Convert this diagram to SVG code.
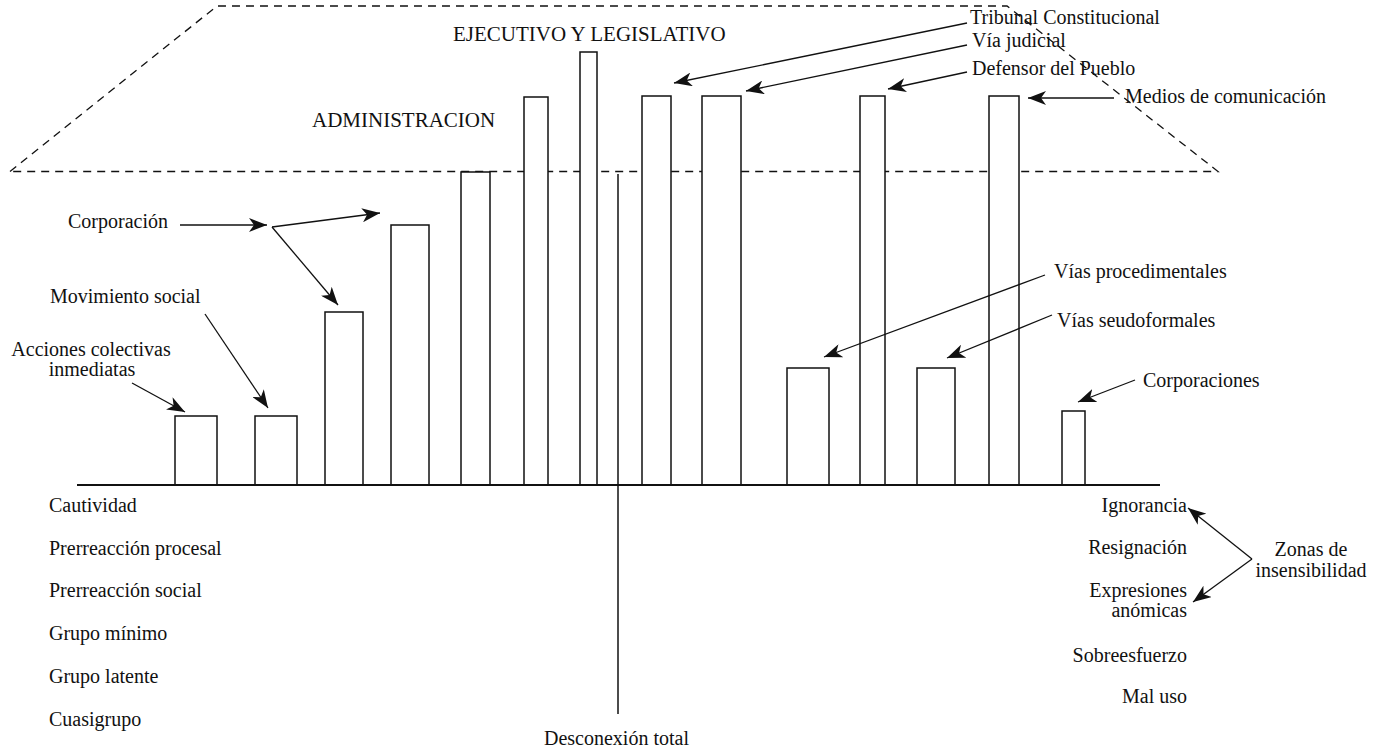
<svg xmlns="http://www.w3.org/2000/svg" width="1381" height="751" viewBox="0 0 1381 751">
<defs>
<style>
.t{font-family:"Liberation Serif","Times New Roman",serif;font-size:20px;fill:#111}
.c{font-size:21px}
.bar{fill:#fff;stroke:#111;stroke-width:1.5}
.arr{fill:none;stroke:#111;stroke-width:1.3;marker-end:url(#ah)}
.dash{fill:none;stroke:#111;stroke-width:1.3;stroke-dasharray:8 6}
</style>
<marker id="ah" viewBox="0 0 18 14" refX="18" refY="7" markerWidth="18" markerHeight="14" markerUnits="userSpaceOnUse" orient="auto">
<path d="M0,0 L18,7 L0,14 L5,7 Z" fill="#111"/>
</marker>
</defs>
<rect width="1381" height="751" fill="#fff"/>
<g id="zone">
<polygon class="dash" points="10,171.5 217,6 1007,6 1218,171.5"/>
</g>
<g id="bars">
<rect class="bar" x="175" y="416" width="42" height="69"/>
<rect class="bar" x="255" y="416" width="42" height="69"/>
<rect class="bar" x="325" y="312" width="38" height="173"/>
<rect class="bar" x="391" y="225" width="38" height="260"/>
<rect class="bar" x="461" y="172" width="29" height="313"/>
<rect class="bar" x="524" y="97" width="24" height="388"/>
<rect class="bar" x="580" y="52" width="17" height="433"/>
<rect class="bar" x="642" y="96" width="29" height="389"/>
<rect class="bar" x="702" y="96" width="39" height="389"/>
<rect class="bar" x="787" y="368" width="42" height="117"/>
<rect class="bar" x="860" y="96" width="25" height="389"/>
<rect class="bar" x="917" y="368" width="38" height="117"/>
<rect class="bar" x="989" y="96" width="30" height="389"/>
<rect class="bar" x="1062" y="411" width="23" height="74"/>
</g>
<g id="axes">
<line x1="77" y1="485" x2="1160" y2="485" stroke="#111" stroke-width="2"/>
<line x1="618" y1="174" x2="618" y2="714" stroke="#111" stroke-width="1.5"/>
</g>
<g id="connectors">
<line class="arr" x1="967" y1="23" x2="674" y2="83"/>
<line class="arr" x1="967" y1="45" x2="746" y2="91"/>
<line class="arr" x1="967" y1="72" x2="888" y2="89"/>
<line class="arr" x1="1114" y1="98" x2="1028" y2="98"/>
<line class="arr" x1="180" y1="225" x2="267" y2="225"/>
<line class="arr" x1="272" y1="227" x2="380" y2="213"/>
<line class="arr" x1="272" y1="227" x2="338" y2="305"/>
<line class="arr" x1="205" y1="314" x2="268" y2="408"/>
<line class="arr" x1="132" y1="383" x2="185" y2="412"/>
<line class="arr" x1="1045" y1="275" x2="824" y2="357"/>
<line class="arr" x1="1052" y1="315" x2="947" y2="358"/>
<line class="arr" x1="1135" y1="380" x2="1078" y2="402"/>
<line class="arr" x1="1252" y1="559" x2="1188" y2="508"/>
<line class="arr" x1="1252" y1="559" x2="1193" y2="602"/>
</g>
<g id="top-labels">
<text class="t c" x="453" y="41">EJECUTIVO Y LEGISLATIVO</text>
<text class="t c" x="312" y="127">ADMINISTRACION</text>
<text class="t" x="970" y="24">Tribunal Constitucional</text>
<text class="t" x="972" y="47">Vía judicial</text>
<text class="t" x="972" y="75">Defensor del Pueblo</text>
<text class="t" x="1125" y="103">Medios de comunicación</text>
</g>
<g id="left-labels">
<text class="t" x="68" y="228">Corporación</text>
<text class="t" x="50" y="303">Movimiento social</text>
<text class="t" x="91" y="356" text-anchor="middle">Acciones colectivas</text>
<text class="t" x="92" y="376" text-anchor="middle">inmediatas</text>
</g>
<g id="right-labels">
<text class="t" x="1054" y="278">Vías procedimentales</text>
<text class="t" x="1057" y="327">Vías seudoformales</text>
<text class="t" x="1143" y="387">Corporaciones</text>
</g>
<g id="left-list">
<text class="t" x="49" y="512">Cautividad</text>
<text class="t" x="49" y="555">Prerreacción procesal</text>
<text class="t" x="49" y="597">Prerreacción social</text>
<text class="t" x="49" y="640">Grupo mínimo</text>
<text class="t" x="49" y="683">Grupo latente</text>
<text class="t" x="49" y="726">Cuasigrupo</text>
</g>
<g id="right-list">
<text class="t" x="1187" y="512" text-anchor="end">Ignorancia</text>
<text class="t" x="1187" y="554" text-anchor="end">Resignación</text>
<text class="t" x="1187" y="597" text-anchor="end">Expresiones</text>
<text class="t" x="1187" y="617" text-anchor="end">anómicas</text>
<text class="t" x="1187" y="662" text-anchor="end">Sobreesfuerzo</text>
<text class="t" x="1187" y="703" text-anchor="end">Mal uso</text>
</g>
<g id="zonas">
<text class="t" x="1311" y="556" text-anchor="middle">Zonas de</text>
<text class="t" x="1311" y="577" text-anchor="middle">insensibilidad</text>
</g>
<g id="desconexion">
<text class="t" x="544" y="745">Desconexión total</text>
</g>
</svg>
